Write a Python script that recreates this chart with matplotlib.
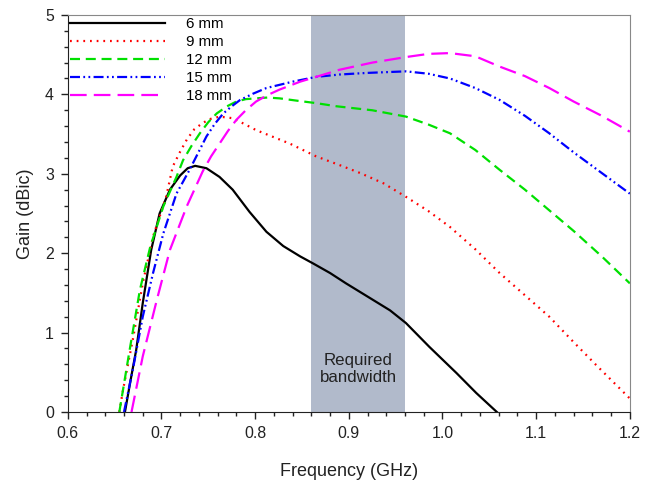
import matplotlib
matplotlib.use("Agg")
import matplotlib.pyplot as plt
from matplotlib.ticker import MultipleLocator

plt.rcParams['font.family'] = ['Liberation Sans', 'DejaVu Sans']

labels = ["6 mm", "9 mm", "12 mm", "15 mm", "18 mm"]

x6 = [0.661, 0.667, 0.673, 0.680, 0.689, 0.698, 0.709, 0.720, 0.728, 0.736, 0.748, 0.762, 0.776, 0.794, 0.812, 0.830, 0.848, 0.862, 0.880, 0.897, 0.915, 0.944, 0.961, 0.986, 1.015, 1.036, 1.058]
y6 = [0.00, 0.40, 0.78, 1.37, 2.04, 2.50, 2.80, 2.98, 3.07, 3.10, 3.07, 2.96, 2.80, 2.52, 2.27, 2.09, 1.96, 1.87, 1.75, 1.62, 1.49, 1.28, 1.12, 0.82, 0.49, 0.24, 0.00]

x9 = [0.655, 0.659, 0.670, 0.680, 0.691, 0.705, 0.712, 0.720, 0.727, 0.735, 0.744, 0.752, 0.762, 0.776, 0.788, 0.801, 0.818, 0.837, 0.865, 0.890, 0.912, 0.937, 0.961, 0.985, 1.008, 1.035, 1.061, 1.088, 1.114, 1.140, 1.165, 1.200]
y9 = [0.00, 0.28, 0.95, 1.62, 2.21, 2.71, 3.09, 3.28, 3.43, 3.56, 3.64, 3.69, 3.72, 3.70, 3.63, 3.55, 3.47, 3.38, 3.22, 3.11, 3.01, 2.88, 2.71, 2.53, 2.33, 2.05, 1.75, 1.47, 1.20, 0.88, 0.58, 0.17]

x12 = [0.655, 0.666, 0.677, 0.688, 0.702, 0.716, 0.723, 0.732, 0.741, 0.750, 0.759, 0.770, 0.780, 0.790, 0.801, 0.813, 0.826, 0.845, 0.865, 0.887, 0.925, 0.961, 0.985, 1.008, 1.035, 1.061, 1.088, 1.114, 1.140, 1.170, 1.200]
y12 = [0.00, 0.78, 1.54, 2.08, 2.59, 2.96, 3.17, 3.35, 3.51, 3.65, 3.76, 3.85, 3.91, 3.94, 3.95, 3.96, 3.95, 3.92, 3.89, 3.85, 3.80, 3.72, 3.62, 3.51, 3.30, 3.05, 2.80, 2.54, 2.28, 1.96, 1.62]

x15 = [0.660, 0.670, 0.680, 0.691, 0.702, 0.716, 0.730, 0.739, 0.748, 0.757, 0.766, 0.775, 0.784, 0.798, 0.812, 0.826, 0.840, 0.865, 0.890, 0.919, 0.940, 0.961, 0.985, 1.008, 1.035, 1.061, 1.088, 1.114, 1.140, 1.170, 1.200]
y15 = [0.00, 0.57, 1.20, 1.75, 2.25, 2.75, 3.05, 3.26, 3.47, 3.63, 3.76, 3.85, 3.93, 4.01, 4.08, 4.12, 4.16, 4.22, 4.25, 4.27, 4.28, 4.29, 4.26, 4.20, 4.08, 3.93, 3.73, 3.51, 3.27, 3.01, 2.75]

x18 = [0.668, 0.680, 0.695, 0.709, 0.727, 0.744, 0.753, 0.762, 0.771, 0.780, 0.790, 0.801, 0.813, 0.826, 0.837, 0.848, 0.865, 0.890, 0.925, 0.961, 0.985, 1.008, 1.035, 1.061, 1.088, 1.114, 1.140, 1.170, 1.200]
y18 = [0.00, 0.70, 1.41, 2.04, 2.59, 3.03, 3.22, 3.38, 3.54, 3.68, 3.80, 3.91, 3.99, 4.06, 4.11, 4.16, 4.22, 4.31, 4.40, 4.47, 4.51, 4.52, 4.48, 4.35, 4.23, 4.08, 3.91, 3.73, 3.53]

band_lo, band_hi = 0.86, 0.96

fig = plt.figure(figsize=(6.52, 4.83), dpi=100)
ax = fig.add_axes([0.104, 0.147, 0.862, 0.822])

ax.axvspan(band_lo, band_hi, color='#b1bacb', zorder=0, lw=0)
ax.text((band_lo + band_hi) / 2, 0.54, "Required\nbandwidth", ha='center', va='center',
        fontsize=12.2, color='#222222', linespacing=1.15)

lw = 1.6
kw = dict(lw=lw, solid_joinstyle='round', dash_joinstyle='round')
ax.plot(x6, y6, color='black', label=labels[0], **kw)
ax.plot(x9, y9, color='#ff0000', dashes=(0.8, 2.2), label=labels[1], **kw)
ax.plot(x12, y12, color='#00e000', dashes=(4.5, 2.6), label=labels[2], **kw)
ax.plot(x15, y15, color='#0000ff', dashes=(4.5, 1.5, 0.8, 1.5, 0.8, 1.5), label=labels[3], **kw)
ax.plot(x18, y18, color='#ff00ff', dashes=(7.5, 3.2), label=labels[4], **kw)

ax.set_xlim(0.6, 1.2)
ax.set_ylim(0, 5)
ax.xaxis.set_major_locator(MultipleLocator(0.1))
ax.xaxis.set_minor_locator(MultipleLocator(0.02))
ax.yaxis.set_major_locator(MultipleLocator(1))
ax.yaxis.set_minor_locator(MultipleLocator(0.2))
ax.set_xticks([0.6, 0.7, 0.8, 0.9, 1.0, 1.1, 1.2])
ax.set_xticklabels(["0.6", "0.7", "0.8", "0.9", "1.0", "1.1", "1.2"])
ax.tick_params(which='major', direction='out', length=5, width=1, labelsize=11.4,
               colors='#222222', pad=5)
ax.tick_params(which='minor', direction='out', length=3, width=1, colors='#222222')

for s in ['top', 'right']:
    ax.spines[s].set_color('#888888')
for s in ['left', 'bottom']:
    ax.spines[s].set_color('#222222')

ax.set_xlabel("Frequency (GHz)", fontsize=13, labelpad=16, color='#222222')
ax.set_ylabel("Gain (dBic)", fontsize=13, labelpad=8, color='#222222')

leg = ax.legend(loc='upper left', frameon=False, fontsize=10.8, handlelength=6.3,
                handletextpad=1.45, labelspacing=0.26, borderaxespad=0.0, borderpad=0.15,
                bbox_to_anchor=(0.0, 1.0))

fig.savefig("out.png", dpi=100)
